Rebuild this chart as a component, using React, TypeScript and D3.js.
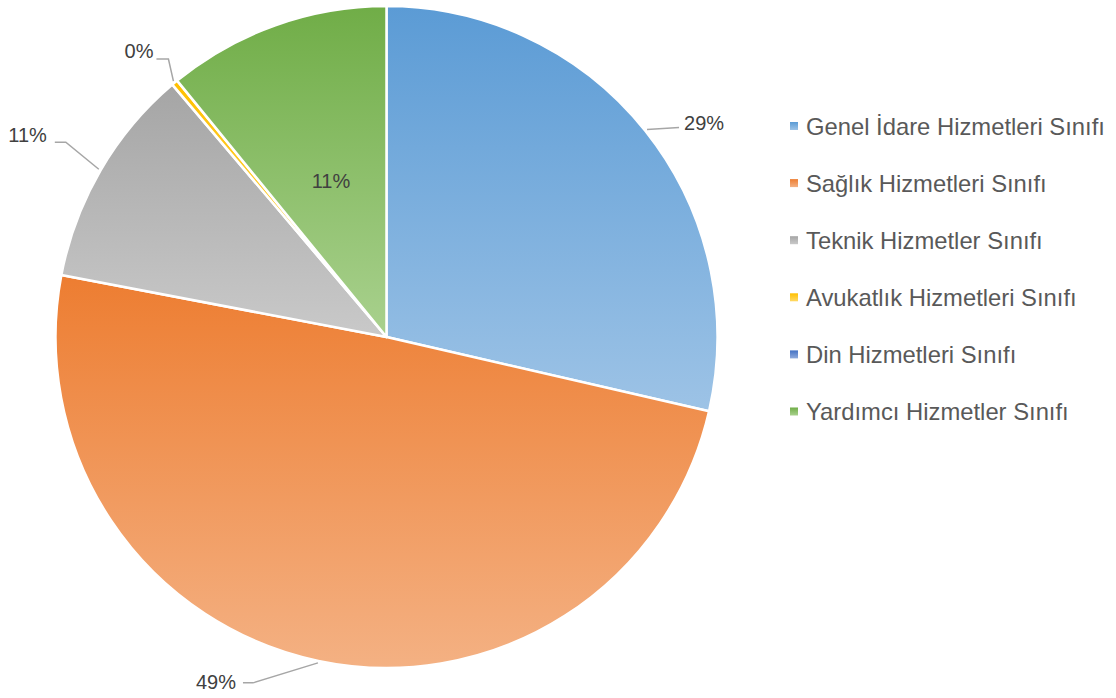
import React from "react";
import * as d3 from "d3";

const categories = [
  "Genel İdare Hizmetleri Sınıfı",
  "Sağlık Hizmetleri Sınıfı",
  "Teknik Hizmetler Sınıfı",
  "Avukatlık Hizmetleri Sınıfı",
  "Din Hizmetleri Sınıfı",
  "Yardımcı Hizmetler Sınıfı",
];
const values = [28.6, 49.4, 10.8, 0.3, 0, 10.9];
const topColors = ["#5b9bd5", "#ed7d31", "#a5a5a5", "#ffc000", "#4472c4", "#70ad47"];
const bottomColors = ["#9dc3e6", "#f4b183", "#c9c9c9", "#ffd966", "#8faadc", "#a9d18e"];

type LL = { ex: number; ey: number; hx: number; tx: number; ty: number; anchor: string; inside?: boolean } | null;
const labelLayout: LL[] = [
  { ex: 32, ey: -2, hx: 0, tx: 37, ty: -7, anchor: "start" },
  { ex: -65, ey: 20, hx: -10, tx: -82, ty: 19, anchor: "end" },
  { ex: -33, ey: -27, hx: -11, tx: -52, ty: -34, anchor: "end" },
  { ex: -5, ey: -22, hx: -12, tx: -20, ty: -30, anchor: "end" },
  null,
  { ex: 0, ey: 0, hx: 0, tx: 0, ty: 0, anchor: "middle", inside: true },
];

export default function App() {
  const W = 1116, H = 698;
  const cx = 386.5, cy = 337, r = 331;
  const total = d3.sum(values);
  const pie = d3.pie<number>().sort(null).value((d) => d);
  const arcs = pie(values);
  const arc = d3.arc<d3.PieArcDatum<number>>().innerRadius(0).outerRadius(r);
  const pct = (v: number) => `${Math.round((v / total) * 100)}%`;

  return (
    <svg width={W} height={H} style={{ position: "absolute", left: 0, top: 0, background: "#fff" }}
      fontFamily="Liberation Sans, Arial, sans-serif">
      <defs>
        {categories.map((c, i) => (
          <linearGradient key={c} id={`g${i}`} x1="0" y1="0" x2="0" y2="1">
            <stop offset="0" stopColor={topColors[i]} />
            <stop offset="1" stopColor={bottomColors[i]} />
          </linearGradient>
        ))}
      </defs>
      <g transform={`translate(${cx},${cy})`}>
        {arcs.map((a, i) =>
          a.endAngle - a.startAngle > 0 ? (
            <path key={i} d={arc(a) || ""} fill={`url(#g${i})`} stroke="#fff" strokeWidth={2.5} strokeLinejoin="round" />
          ) : null
        )}
        {arcs.map((a, i) => {
          const L = labelLayout[i];
          if (!L) return null;
          const mid = (a.startAngle + a.endAngle) / 2;
          if (L.inside) {
            const [x, y] = arc.centroid(a);
            return (
              <text key={i} x={x} y={y} textAnchor="middle" dominantBaseline="central" fontSize={20} fill="#404040">
                {pct(a.data)}
              </text>
            );
          }
          const px = Math.sin(mid) * (r + 2);
          const py = -Math.cos(mid) * (r + 2);
          const ex = px + L.ex, ey = py + L.ey;
          const hx = ex + L.hx;
          return (
            <g key={i}>
              <polyline points={`${px},${py} ${ex},${ey} ${hx},${ey}`} fill="none" stroke="#a6a6a6" strokeWidth={1.5} />
              <text x={px + L.tx} y={py + L.ty} textAnchor={L.anchor} dominantBaseline="central" fontSize={20} fill="#404040">
                {pct(a.data)}
              </text>
            </g>
          );
        })}
      </g>
      <g>
        {categories.map((c, i) => (
          <g key={c} transform={`translate(790,${126 + i * 57.1})`}>
            <rect x={0} y={-4} width={8} height={8} fill={`url(#g${i})`} />
            <text x={16} y={0} dominantBaseline="central" fontSize={23.8} fill="#595959">{c}</text>
          </g>
        ))}
      </g>
    </svg>
  );
}
